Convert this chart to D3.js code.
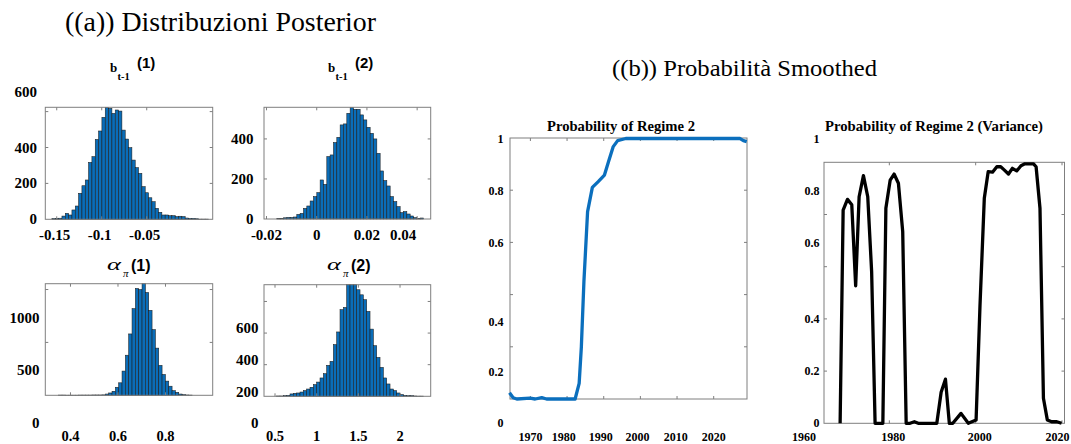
<!DOCTYPE html>
<html>
<head>
<meta charset="utf-8">
<script src="https://cdn.jsdelivr.net/npm/d3@7"></script>
<style>
  body { margin: 0; background: #fff; }
  svg { display: block; }
</style>
</head>
<body>
<svg id="fig" width="1071" height="444"></svg>
<script>
// ---------- posterior draws: histogram counts per bin ----------
// b_{t-1}(1)
const bt1Start = -0.1553, bt1Width = 0.0037;
const bt1Counts = [4,5,6,18,33,24,52,74,145,187,219,317,349,445,492,568,624,618,590,609,603,497,447,399,330,288,256,182,148,120,98,61,39,24,24,20,20,15,17,15,7,5,5,3,1,1,1];
// b_{t-1}(2)
const bt2Start = -0.0159, bt2Width = 0.001328;
const bt2Counts = [2,3,6,8,8,10,23,28,53,65,90,112,132,195,173,312,320,382,408,470,475,528,558,548,548,520,495,458,428,400,328,240,192,165,112,87,62,32,37,25,15,7,3,5,0];
// alpha_pi(1)
const ap1Start = 0.3503, ap1Width = 0.01404;
const ap1Counts = [2,2,1,1,1,1,2,2,2,2,3,3,3,4,12,22,38,76,118,229,379,580,819,1010,1000,1060,972,803,621,446,283,197,134,86,44,28,12,6,3,2];
// alpha_pi(2)
const ap2Start = 0.52, ap2Width = 0.04;
const ap2Counts = [2,2,4,6,15,19,21,27,36,46,57,74,90,116,143,196,221,327,407,548,562,712,720,710,674,642,611,537,425,320,246,183,116,78,46,36,21,11,6,4,4,2,1,1];

// ---------- smoothed probabilities ----------
const regimeYears = [1964.3,1965.3,1966.3,1969.9,1971.3,1973.1,1974.4,1982.2,1983.3,1983.9,1984.6,1985.6,1986.9,1988.5,1990.2,1991.3,1992.6,1993.8,1996.0,2027.2,2028.1,2029.0];
const regimeProb  = [0.024,0.005,0.0,0.003,0.0,0.005,0.0,0.0,0.060,0.2,0.45,0.718,0.811,0.833,0.858,0.909,0.967,0.990,0.998,0.998,0.99,0.986];

const varianceYears = [1968.6,1969.3,1970.3,1971.3,1972.2,1973.0,1974.0,1975.0,1975.9,1976.7,1978.5,1979.2,1980.2,1981.1,1982.1,1983.1,1983.9,1984.8,1985.8,1986.7,1991.0,1992.0,1993.0,1993.9,1994.7,1996.6,1998.3,2000.1,2001.0,2002.0,2002.9,2003.9,2004.9,2005.8,2006.6,2007.6,2008.5,2009.5,2010.5,2011.4,2012.4,2013.4,2014.0,2014.9,2015.7,2016.6,2017.6,2018.8,2019.9];
const varianceProb  = [0,0.817,0.858,0.837,0.527,0.868,0.949,0.868,0.581,0,0,0.824,0.932,0.955,0.920,0.734,0,0,0.006,0,0,0.119,0.169,0,0,0.038,0,0.013,0.45,0.862,0.964,0.962,0.983,0.983,0.971,0.955,0.977,0.967,0.987,0.994,0.994,0.994,0.983,0.824,0.096,0.013,0.006,0.006,0];

// ---------- tick labels ----------
const bt1XTicks = [-0.15, -0.1, -0.05], bt1YTicks = [0, 200, 400, 600];
const bt2XTicks = [-0.02, 0, 0.02, 0.04], bt2YTicks = [0, 200, 400];
const ap1XTicks = [0.4, 0.6, 0.8], ap1YTicks = [0, 500, 1000];
const ap2XTicks = [0.5, 1, 1.5, 2], ap2YTicks = [0, 200, 400, 600];
const probYTicks = [0, 0.2, 0.4, 0.6, 0.8, 1];
const regimeXTicks = [1970, 1980, 1990, 2000, 2010, 2020];
const varianceXTicks = [1960, 1980, 2000, 2020];

// ---------- drawing ----------
const svg = d3.select('#fig');
const BAR = '#0a6db8', LINE_BLUE = '#0b6fbd', FRAME = '#7f7f7f';
const SERIF = '"Liberation Serif", "Times New Roman", serif';
const SANS = '"Liberation Sans", Arial, sans-serif';

function txt(g, x, y, s, o) {
  const t = g.append('text').attr('x', x).attr('y', y).text(s)
    .attr('font-family', o.family || SERIF)
    .attr('font-size', o.size)
    .attr('font-weight', o.weight || 'normal')
    .attr('text-anchor', o.anchor || 'start')
    .attr('fill', '#000');
  if (o.baseline) t.attr('dominant-baseline', o.baseline);
  if (o.style) t.attr('font-style', o.style);
  if (o.len) t.attr('textLength', o.len).attr('lengthAdjust', 'spacingAndGlyphs');
  return t;
}

function fmt(v) { return String(v); }

// box with inward ticks on all four sides
function frame(g, box, xs, ys, xTicks, yTicks) {
  const L = 3;
  xTicks.forEach(v => {
    const x = xs(v);
    if (x < box.x0 + 1 || x > box.x1 - 1) return;
    g.append('line').attr('x1', x).attr('x2', x).attr('y1', box.y1).attr('y2', box.y1 - L).attr('stroke', FRAME);
    g.append('line').attr('x1', x).attr('x2', x).attr('y1', box.y0).attr('y2', box.y0 + L).attr('stroke', FRAME);
  });
  yTicks.forEach(v => {
    const y = ys(v);
    if (y < box.y0 + 1 || y > box.y1 - 1) return;
    g.append('line').attr('x1', box.x0).attr('x2', box.x0 + L).attr('y1', y).attr('y2', y).attr('stroke', FRAME);
    g.append('line').attr('x1', box.x1).attr('x2', box.x1 - L).attr('y1', y).attr('y2', y).attr('stroke', FRAME);
  });
  g.append('rect').attr('x', box.x0).attr('y', box.y0)
    .attr('width', box.x1 - box.x0).attr('height', box.y1 - box.y0)
    .attr('fill', 'none').attr('stroke', FRAME).attr('stroke-width', 1);
}

function histPanel(p) {
  const g = svg.append('g');
  const xs = d3.scaleLinear().domain(p.xDomain).range([p.box.x0, p.box.x1]);
  const ys = d3.scaleLinear().domain(p.yDomain).range([p.box.y1, p.box.y0]).clamp(true);
  const bins = p.counts.map((c, i) => ({ c, a: p.start + i * p.width, b: p.start + (i + 1) * p.width }))
    .filter(d => d.c > 0);
  g.selectAll('rect.bar').data(bins).join('rect').attr('class', 'bar')
    .attr('x', d => xs(d.a)).attr('width', d => xs(d.b) - xs(d.a))
    .attr('y', d => ys(d.c)).attr('height', d => ys(0) - ys(d.c))
    .attr('fill', BAR).attr('stroke', '#1c1c1c').attr('stroke-width', 0.55);
  frame(g, p.box, xs, ys, p.xTicks, p.yTicks);
  const xSize = p.xLabelSize || 15;
  p.xTicks.forEach(v => {
    const dx = (p.xLabelDx && p.xLabelDx[v]) || 0;
    txt(g, xs(v) + dx, p.xLabelY, fmt(v), { size: xSize, weight: 'bold', anchor: 'middle', baseline: 'central' });
  });
  p.yTicks.forEach(v => {
    const dy = (p.yLabelDy && p.yLabelDy[v] !== undefined) ? p.yLabelDy[v] : (p.yLabelShift || 0);
    txt(g, p.yLabelX, ys(v) + dy, fmt(v), { size: 15, weight: 'bold', anchor: 'end', baseline: 'central' });
  });
  return g;
}

function linePanel(p) {
  const g = svg.append('g');
  const xs = d3.scaleLinear().domain(p.xDomain).range(p.xRange);
  const ys = d3.scaleLinear().domain([0, 1]).range([p.box.y1, p.box.y0]);
  frame(g, p.box, xs, ys, p.xTicks, [0.2, 0.4, 0.6, 0.8]);
  const pts = p.years.map((y, i) => [y, p.values[i]]);
  g.append('path').datum(pts)
    .attr('d', d3.line().x(d => xs(d[0])).y(d => ys(d[1])))
    .attr('fill', 'none').attr('stroke', p.color).attr('stroke-width', 3.3)
    .attr('stroke-linejoin', 'round');
  p.xTicks.forEach(v => {
    const dx = p.xLabelDx[v] || 0;
    txt(g, xs(v) + dx, p.xLabelY, String(v), { size: 12, weight: 'bold', anchor: 'middle', baseline: 'central' });
  });
  probYTicks.forEach(v => {
    const dy = p.yLabelDy[v] || 0;
    txt(g, p.yLabelX, ys(v) + dy, String(v), { size: 12, weight: 'bold', anchor: 'end', baseline: 'central' });
  });
  txt(g, p.titleX, 131, p.title, { size: 14.3, weight: 'bold', len: p.titleLen });
  return g;
}

// main headings
txt(svg, 65, 31, '((a)) Distribuzioni Posterior', { size: 27, len: 311 });
txt(svg, 612, 76, '((b)) Probabilità Smoothed', { size: 23.5, len: 265 });

// panel headings: b_{t-1}(k) and alpha_pi(k)
function bHead(x, k) {
  txt(svg, x, 72, 'b', { size: 13, weight: 'bold' });
  txt(svg, x + 7.5, 80, 't-1', { size: 10.5, weight: 'bold' });
  txt(svg, x + 27, 67.5, '(' + k + ')', { family: SANS, size: 15, weight: 'bold' });
}
function aHead(x, k) {
  txt(svg, x, 270, 'α', { size: 17, style: 'italic', len: 14 });
  txt(svg, x + 16, 277, 'π', { size: 11, style: 'italic' });
  txt(svg, x + 24, 271, '(' + k + ')', { family: SANS, size: 16, weight: 'bold' });
}
bHead(110, 1);
bHead(328, 2);
aHead(107, 1);
aHead(327, 2);

histPanel({
  box: { x0: 45.3, x1: 212.7, y0: 107.3, y1: 219.3 },
  xDomain: [-0.1627, 0.0233], yDomain: [0, 624],
  start: bt1Start, width: bt1Width, counts: bt1Counts,
  xTicks: bt1XTicks, yTicks: bt1YTicks,
  xLabelY: 235, yLabelX: 37, yLabelDy: { 600: -20 }, xLabelDx: { '-0.15': -2, '-0.1': -2, '-0.05': -2 }
});
histPanel({
  box: { x0: 264, x1: 430.7, y0: 107.3, y1: 219 },
  xDomain: [-0.021, 0.0454], yDomain: [0, 558],
  start: bt2Start, width: bt2Width, counts: bt2Counts,
  xTicks: bt2XTicks, yTicks: bt2YTicks,
  xLabelY: 235, yLabelX: 253.5, xLabelDx: { 0.04: -14 }
});
histPanel({
  box: { x0: 45.3, x1: 212.7, y0: 283.7, y1: 395.3 },
  xDomain: [0.294, 0.9987], yDomain: [0, 1055],
  start: ap1Start, width: ap1Width, counts: ap1Counts,
  xTicks: ap1XTicks, yTicks: ap1YTicks,
  xLabelY: 436.3, xLabelSize: 14.5, yLabelX: 39.5, yLabelShift: 28
});
histPanel({
  box: { x0: 264, x1: 430.7, y0: 284.7, y1: 396.3 },
  xDomain: [0.368, 2.368], yDomain: [0, 706],
  start: ap2Start, width: ap2Width, counts: ap2Counts,
  xTicks: ap2XTicks, yTicks: ap2YTicks,
  xLabelY: 436.3, xLabelSize: 14.5, yLabelX: 258.5, yLabelShift: 27
});

linePanel({
  box: { x0: 510, x1: 747, y0: 138, y1: 399 },
  xDomain: [1970, 2020], xRange: [530.4, 713.7],
  years: regimeYears, values: regimeProb, color: LINE_BLUE,
  xTicks: regimeXTicks, xLabelY: 437.2, yLabelX: 503.5,
  xLabelDx: { 1980: -3.4, 1990: -3, 2000: -3, 2010: -1.3 },
  yLabelDy: { 1: 1, 0.8: 1, 0.6: 1, 0.4: 27, 0.2: 25, 0: 24 },
  title: 'Probability of Regime 2', titleX: 547, titleLen: 148
});
linePanel({
  box: { x0: 824, x1: 1064.5, y0: 162.3, y1: 423.3 },
  xDomain: [1960, 2020], xRange: [803, 1062],
  years: varianceYears, values: varianceProb, color: '#000',
  xTicks: varianceXTicks, xLabelY: 437.2, yLabelX: 819.5,
  xLabelDx: { 1960: 1, 1980: 4, 2000: 4, 2020: -4.5 },
  yLabelDy: { 1: -23, 0.8: -23.5, 0.6: -24 },
  title: 'Probability of Regime 2 (Variance)', titleX: 825, titleLen: 218
});
</script>
</body>
</html>
